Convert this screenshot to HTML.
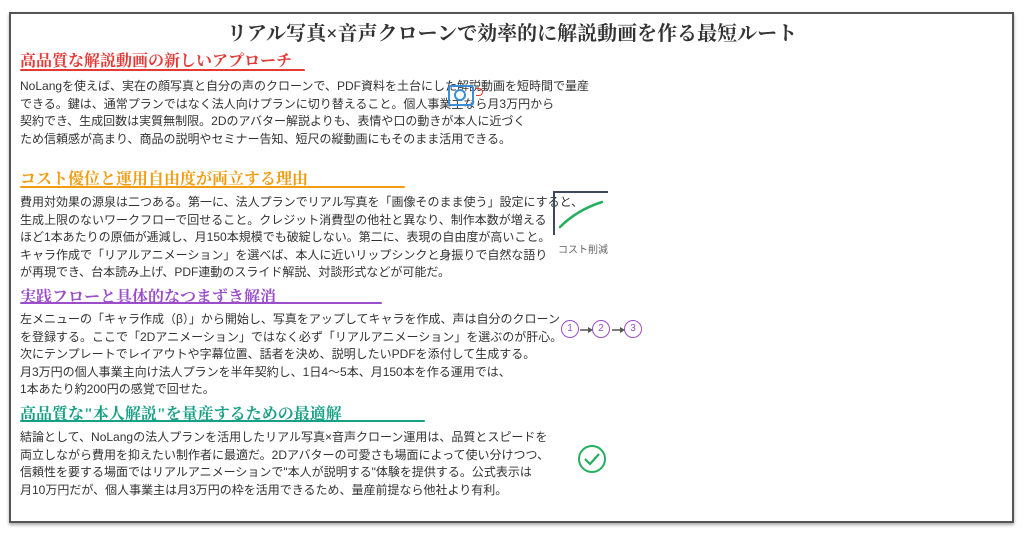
<!DOCTYPE html>
<html><head><meta charset="utf-8"><style>
body{margin:0;width:1024px;height:533px;background:#fff;position:relative;overflow:hidden;font-family:"Liberation Sans","Noto Sans CJK JP",sans-serif}
.frame{position:absolute;left:9px;top:12px;width:1001px;height:507px;border:2px solid #555;box-shadow:0 2px 3px #aaa}
.t{position:absolute;left:0;width:1024px;top:17px;text-align:center;font-family:"Liberation Serif","Noto Serif CJK SC",serif;font-size:20px;font-weight:bold;color:#333}
.h{position:absolute;left:20px;font-family:"Liberation Serif","Noto Serif CJK SC",serif;font-size:16px;font-weight:bold}
.u{position:absolute;left:20px;height:2px;border-radius:2px}
.p{position:absolute;left:20px;font-size:12px;color:#333;white-space:nowrap}
.p div{height:17.5px;line-height:17.5px}
.c{position:absolute;width:16px;height:16px;border:1.5px solid #9b4dca;border-radius:50%;font-size:10px;color:#9b4dca;text-align:center;line-height:16px}
</style></head><body>
<div class="frame"></div>
<div class="t">リアル写真×音声クローンで効率的に解説動画を作る最短ルート</div>

<div class="h" style="top:48px;color:#e53935">高品質な解説動画の新しいアプローチ</div>
<div class="u" style="top:69px;width:285px;background:#e53935"></div>
<div class="p" style="top:78px"><div>NoLangを使えば、実在の顔写真と自分の声のクローンで、PDF資料を土台にした解説動画を短時間で量産</div><div>できる。鍵は、通常プランではなく法人向けプランに切り替えること。個人事業主なら月3万円から</div><div>契約でき、生成回数は実質無制限。2Dのアバター解説よりも、表情や口の動きが本人に近づく</div><div>ため信頼感が高まり、商品の説明やセミナー告知、短尺の縦動画にもそのまま活用できる。</div></div>
<div style="position:absolute;left:448px;top:85px;width:22px;height:17px;border:2px solid #3a8fd8;border-radius:3px"></div>
<div style="position:absolute;left:454px;top:89px;width:8px;height:8px;border:2px solid #3a8fd8;border-radius:50%"></div>
<div style="position:absolute;left:476px;top:88px;width:6px;height:6px;border:1.5px solid #e53935;border-left:none;border-radius:0 5px 5px 0"></div>

<div class="h" style="top:166px;color:#f39c12">コスト優位と運用自由度が両立する理由</div>
<div class="u" style="top:186px;width:385px;background:#f39c12"></div>
<div class="p" style="top:194px"><div>費用対効果の源泉は二つある。第一に、法人プランでリアル写真を「画像そのまま使う」設定にすると、</div><div>生成上限のないワークフローで回せること。クレジット消費型の他社と異なり、制作本数が増える</div><div>ほど1本あたりの原価が逓減し、月150本規模でも破綻しない。第二に、表現の自由度が高いこと。</div><div>キャラ作成で「リアルアニメーション」を選べば、本人に近いリップシンクと身振りで自然な語り</div><div>が再現でき、台本読み上げ、PDF連動のスライド解説、対談形式などが可能だ。</div></div>
<svg style="position:absolute;left:552px;top:190px" width="60" height="50"><path d="M2 45V2H56" fill="none" stroke="#3d4a5c" stroke-width="2"/><path d="M8 37Q25 20 50 12" fill="none" stroke="#27ae60" stroke-width="2.5" stroke-linecap="round"/></svg>
<div style="position:absolute;left:558px;top:241px;font-size:10px;color:#666">コスト削減</div>

<div class="h" style="top:284px;color:#9b4dca">実践フローと具体的なつまずき解消</div>
<div class="u" style="top:302px;width:362px;background:#9b4dca"></div>
<div class="p" style="top:311px"><div>左メニューの「キャラ作成（β）」から開始し、写真をアップしてキャラを作成、声は自分のクローン</div><div>を登録する。ここで「2Dアニメーション」ではなく必ず「リアルアニメーション」を選ぶのが肝心。</div><div>次にテンプレートでレイアウトや字幕位置、話者を決め、説明したいPDFを添付して生成する。</div><div>月3万円の個人事業主向け法人プランを半年契約し、1日4〜5本、月150本を作る運用では、</div><div>1本あたり約200円の感覚で回せた。</div></div>
<div class="c" style="left:561px;top:320px">1</div><div class="c" style="left:592px;top:320px">2</div><div class="c" style="left:624px;top:320px">3</div>
<svg style="position:absolute;left:578px;top:324px" width="50" height="14"><path d="M2 6H13M34 6H45" stroke="#555" stroke-width="1.5"/><path d="M10 3L15 6L10 9ZM42 3L47 6L42 9Z" fill="#555"/></svg>

<div class="h" style="top:401px;color:#16a085">高品質な"本人解説"を量産するための最適解</div>
<div class="u" style="top:420px;width:405px;background:#16a085"></div>
<div class="p" style="top:429px"><div>結論として、NoLangの法人プランを活用したリアル写真×音声クローン運用は、品質とスピードを</div><div>両立しながら費用を抑えたい制作者に最適だ。2Dアバターの可愛さも場面によって使い分けつつ、</div><div>信頼性を要する場面ではリアルアニメーションで"本人が説明する"体験を提供する。公式表示は</div><div>月10万円だが、個人事業主は月3万円の枠を活用できるため、量産前提なら他社より有利。</div></div>
<svg style="position:absolute;left:576px;top:443px" width="32" height="32"><circle cx="16" cy="16" r="13" fill="none" stroke="#27ae60" stroke-width="2"/><path d="M9 16l5 5 9-10" fill="none" stroke="#27ae60" stroke-width="2.2"/></svg>
</body></html>
